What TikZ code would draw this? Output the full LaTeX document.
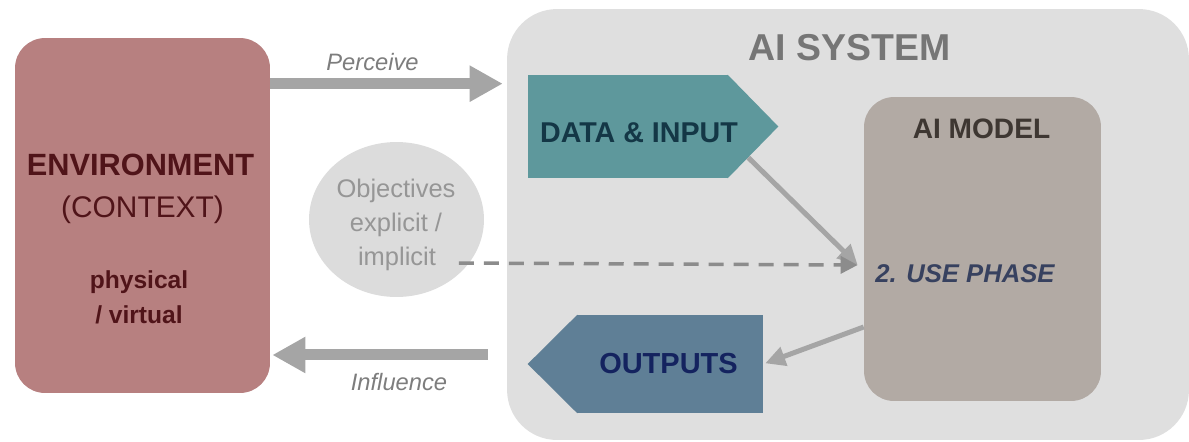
\documentclass[tikz,border=0pt]{standalone}
\usepackage{fontspec}
\setmainfont{Liberation Sans}
\usetikzlibrary{arrows.meta,positioning,calc,shapes.geometric}

\definecolor{envred}{RGB}{183,128,128}
\definecolor{envtext}{RGB}{80,20,25}
\definecolor{sysgray}{RGB}{223,223,223}
\definecolor{systext}{RGB}{118,118,118}
\definecolor{datateal}{RGB}{94,152,156}
\definecolor{datatext}{RGB}{20,55,70}
\definecolor{modeltaupe}{RGB}{178,170,164}
\definecolor{modeltext}{RGB}{62,55,50}
\definecolor{phasetext}{RGB}{55,65,95}
\definecolor{outblue}{RGB}{95,127,150}
\definecolor{outtext}{RGB}{20,35,95}
\definecolor{objgray}{RGB}{220,220,220}
\definecolor{objtext}{RGB}{150,150,150}
\definecolor{arrowgray}{RGB}{165,165,165}
\definecolor{labelgray}{RGB}{125,125,125}

\begin{document}
\begin{tikzpicture}[x=0.02cm, y=-0.02cm,
                    every node/.append style={align=center, inner sep=0pt},
                    panel/.style={rounded corners=0.6cm, minimum width=#1},
                    txt/.style={anchor=base, font=\fontsize{#1}{#1}\selectfont},
                    bftxt/.style={anchor=base, font=\fontsize{#1}{#1}\selectfont\bfseries},
                    ittxt/.style={anchor=base, font=\fontsize{#1}{#1}\selectfont\itshape},
                    bittxt/.style={anchor=base, font=\fontsize{#1}{#1}\selectfont\bfseries\itshape},
                    bigarrow/.style={arrowgray, line width=0.22cm, -{Triangle[length=0.66cm,width=0.68cm]}},
                    thinarrow/.style={arrowgray, line width=0.1cm, -{Triangle[length=0.4cm,width=0.38cm]}},
                    dasharrow/.style={arrowgray!85!black, line width=0.07cm, dash pattern=on 0.3cm off 0.2cm, -{Triangle[length=0.34cm,width=0.34cm]}}]

                   \useasboundingbox (0,0) rectangle (1189,441);

                   % environment
                   \node [panel=5.1cm, fill=envred, minimum height=7.1cm] (env) at (142.5,215.5) {};
                   \node [bftxt=17.5, envtext] (envA) at (140.5,175) {ENVIRONMENT};
                   \node [txt=17, envtext] (envB) at (142.5,217) {(CONTEXT)};
                   \node [bftxt=14, envtext] (envC) at (139,288) {physical};
                   \node [bftxt=14, envtext] (envD) at (139,323) {/ virtual};

                   % ai system
                   \node [panel=13.64cm, rounded corners=1cm, fill=sysgray, minimum height=8.62cm] (sys) at (848,224.5) {};
                   \node [bftxt=21.3, systext] (systitle) at (849.5,60) {AI SYSTEM};

                   \node [panel=4.74cm, fill=modeltaupe, minimum height=6.08cm] (model) at (982.5,249) {};
                   \node [bftxt=16, modeltext] (modeltitle) at (981.5,138) {AI MODEL};
                   \node [bittxt=14.6, phasetext] (phase) at (965,282) {2. USE PHASE};

                   \node [fill=datateal, minimum width=4cm, minimum height=2.06cm] (data) at (628,126.5) {};
                   \coordinate (datatip) at ([xshift=1cm]data.east);
                   \fill [datateal] ([xshift=-0.4pt]data.north east) -- (datatip) -- ([xshift=-0.4pt]data.south east) -- cycle;
                   \node [bftxt=16.3, datatext] (datalabel) at (639,142) {DATA \& INPUT};

                   \node [fill=outblue, minimum width=3.72cm, minimum height=1.96cm] (out) at (670,364) {};
                   \coordinate (outtip) at ([xshift=-0.98cm]out.west);
                   \fill [outblue] ([xshift=0.4pt]out.north west) -- (outtip) -- ([xshift=0.4pt]out.south west) -- cycle;
                   \node [bftxt=16.5, outtext] (outlabel) at (668.5,373) {OUTPUTS};

                   % objectives
                   \node [ellipse, fill=objgray, minimum width=3.5cm, minimum height=3.1cm] (obj) at (396.5,219.5) {};
                   \node [txt=14.5, objtext] (objA) at (396,197) {Objectives};
                   \node [txt=14.5, objtext] (objB) at (396,231) {explicit /};
                   \node [txt=14.5, objtext] (objC) at (397,265) {implicit};

                   % flows
                   \coordinate (perceivein) at ([yshift=-0.92cm]env.north east);
                   \draw [bigarrow, shorten >=0.08cm] (perceivein) -- (perceivein -| sys.west);
                   \node [ittxt=13.5, labelgray] (perceive) at (372.5,70) {Perceive};

                   \coordinate (influenceout) at ([xshift=-0.38cm,yshift=-2.61cm]sys.west);
                   \draw [bigarrow, shorten >=0.04cm] (influenceout) -- (influenceout -| env.east);
                   \node [ittxt=13.5, labelgray] (influence) at (399,390) {Influence};

                   \coordinate (usein) at ([xshift=-0.12cm,yshift=-0.32cm]model.west);
                   \draw [thinarrow] ($(data.south east)!0.4!(datatip)$) -- (usein);
                   \draw [dasharrow] ([xshift=0.45cm,yshift=0.04cm]objC.base east) -- (usein);
                   \draw [thinarrow, shorten >=0.04cm] ([yshift=-1.56cm]model.west) -- (out.east);
                \end{tikzpicture}
\end{document}
